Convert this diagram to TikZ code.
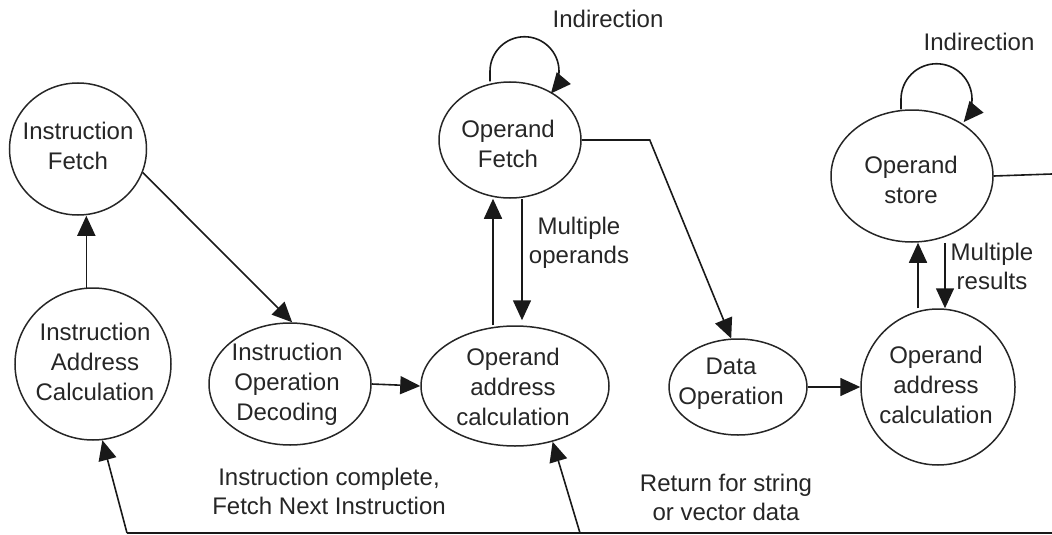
\documentclass[tikz,border=0pt]{standalone}
\usepackage{fontspec}
\setmainfont{Liberation Sans}
\usetikzlibrary{shapes.geometric,arrows.meta}
\begin{document}
\begin{tikzpicture}[x=1pt,y=-1pt,
  >={Triangle[length=20pt,width=18pt]},
  state/.style={ellipse,draw=black!85,line width=1.5pt,inner sep=0pt},
  txt/.style={align=center,inner sep=0pt,text=black!85,font=\fontsize{24}{30}\selectfont},
  lbl/.style={align=center,inner sep=0pt,text=black!85,font=\fontsize{24}{29}\selectfont},
  ln/.style={line width=1.6pt,draw=black!90},
  arr/.style={ln,->}]
\useasboundingbox (0,0) rectangle (1052,535);
% states
\node[state,minimum width=137pt,minimum height=132pt] (IF) at (78,149) {};
\node[state,minimum width=156pt,minimum height=152pt] (IAC) at (93,364) {};
\node[state,minimum width=162pt,minimum height=122pt] (IOD) at (290,384) {};
\node[state,minimum width=188pt,minimum height=120pt] (OAC1) at (515,386) {};
\node[state,minimum width=142pt,minimum height=116pt] (OF) at (510,140) {};
\node[state,minimum width=138pt,minimum height=96pt] (DO) at (738,387) {};
\node[state,minimum width=154pt,minimum height=156pt] (OAC2) at (938,387) {};
\node[state,minimum width=162pt,minimum height=132pt] (OS) at (912,176) {};
% state texts
\node[txt] (IFt) at (78,146) {Instruction\\Fetch};
\node[txt] (IACt) at (95,362) {Instruction\\Address\\Calculation};
\node[txt] (IODt) at (287,384) {Instruction\\Operation\\Decoding};
\node[txt] (OAC1t) at (513,387) {Operand\\address\\calculation};
\node[txt] (OFt) at (508,144) {Operand\\Fetch};
\node[txt] (DOt) at (731,384) {Data\\Operation};
\node[txt] (OAC2t) at (936,385) {Operand\\address\\calculation};
\node[txt] (OSt) at (911,180) {Operand\\store};
% labels
\node[lbl] (ind1) at (608,19) {Indirection};
\node[lbl] (ind2) at (979,42) {Indirection};
\node[lbl] (mo) at (579,243) {Multiple\\operands};
\node[lbl] (mr) at (992,266) {Multiple\\results};
\node[lbl] (ic) at (329,491) {Instruction complete,\\Fetch Next Instruction};
\node[lbl] (rs) at (726,497) {Return for string\\or vector data};
% free ends
\coordinate (R) at (1052,533);
\coordinate (B1) at (127,533);
\coordinate (B2) at (580,533);
\coordinate (OSR) at (1052,174);
% connectors
\draw[arr] (IAC.95) -- (IAC.95 |- IF.south);
\draw[arr] (IF.-20) -- (IOD.88);
\draw[arr] (IOD.east) -- (OAC1.west);
\draw[arr] ([xshift=-22pt]OAC1.north) -- ([xshift=-17pt]OF.south);
\draw[arr,shorten >=5pt] ([xshift=12pt]OF.south) -- ([xshift=7pt]OAC1.north);
\draw[arr] ([xshift=-20pt]OF.north) -- ++(0,-10) arc[start angle=180,end angle=400,radius=34.5];
\draw[arr] (OF.east) -- ++(68,0) -- (DO.98);
\draw[arr] (DO.east) -- (OAC2.west);
\draw[arr] ([xshift=-20pt]OAC2.north) -- ([xshift=6pt]OS.south);
\draw[arr] ([xshift=33pt]OS.south) -- ([xshift=7pt]OAC2.north);
\draw[arr] ([xshift=-11pt]OS.north) -- ++(0,-10) arc[start angle=180,end angle=400,radius=35.5];
\draw[ln] (OS.east) -- (OSR);
\draw[ln] (R) -- (B1);
\draw[arr] (B1) -- (IAC.-83);
\draw[arr] (B2) -- (OAC1.-56);
\end{tikzpicture}
\end{document}
